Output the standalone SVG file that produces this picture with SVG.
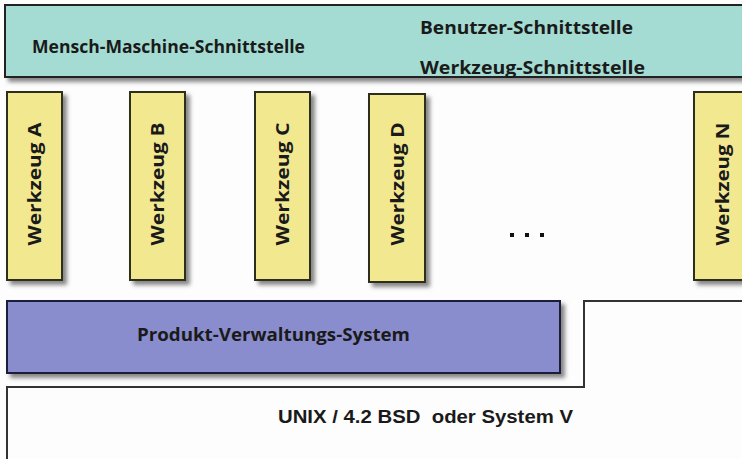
<svg xmlns="http://www.w3.org/2000/svg" width="742" height="459" viewBox="0 0 742 459">
<defs>
<filter id="sh" x="-10%" y="-10%" width="130%" height="130%">
<feDropShadow dx="4" dy="4" stdDeviation="2" flood-color="#555" flood-opacity="0.7"/>
</filter>
<style>
.lbl{font-family:"Open Sans","Noto Sans","DejaVu Sans",sans-serif;font-weight:bold;fill:#1a1a1a;font-size:17.5px}
.tool{fill:#f2e890;stroke:#2e2e1a;stroke-width:2;filter:url(#sh)}
.tl{font-family:"Open Sans","Noto Sans","DejaVu Sans",sans-serif;font-weight:bold;font-size:17px;fill:#1a1a1a;text-anchor:middle;dominant-baseline:central}
.unix{font-family:"Liberation Sans",Arial,sans-serif;font-weight:bold;font-size:18.5px;fill:#1a1a1a;white-space:pre}
</style>
</defs>
<rect width="742" height="459" fill="#fdfdfd"/>
<g id="mms">
<rect x="5" y="5" width="760" height="72" fill="#a4dcd3" stroke="#222" stroke-width="2" filter="url(#sh)"/>
<text class="lbl" x="32" y="53" textLength="273" lengthAdjust="spacingAndGlyphs">Mensch-Maschine-Schnittstelle</text>
<text class="lbl" x="420" y="34" textLength="213" lengthAdjust="spacingAndGlyphs">Benutzer-Schnittstelle</text>
<text class="lbl" x="420" y="74" textLength="225" lengthAdjust="spacingAndGlyphs">Werkzeug-Schnittstelle</text>
</g>
<g id="toolA"><rect class="tool" x="7" y="92" width="55" height="188"/><text class="tl" transform="translate(34.5,184) rotate(-90)" textLength="123" lengthAdjust="spacingAndGlyphs">Werkzeug A</text></g>
<g id="toolB"><rect class="tool" x="130" y="92" width="55" height="188"/><text class="tl" transform="translate(157.5,184) rotate(-90)" textLength="123" lengthAdjust="spacingAndGlyphs">Werkzeug B</text></g>
<g id="toolC"><rect class="tool" x="255" y="92" width="55" height="188"/><text class="tl" transform="translate(282.5,184) rotate(-90)" textLength="123" lengthAdjust="spacingAndGlyphs">Werkzeug C</text></g>
<g id="toolD"><rect class="tool" x="369" y="94" width="56" height="188"/><text class="tl" transform="translate(397,184) rotate(-90)" textLength="123" lengthAdjust="spacingAndGlyphs">Werkzeug D</text></g>
<g id="toolN"><rect class="tool" x="694" y="92" width="60" height="188"/><text class="tl" transform="translate(722,184) rotate(-90)" textLength="123" lengthAdjust="spacingAndGlyphs">Werkzeug N</text></g>
<g id="dots"><rect x="510" y="233" width="4" height="4" fill="#111"/><rect x="525" y="233" width="4" height="4" fill="#111"/><rect x="540" y="233" width="4" height="4" fill="#111"/></g>
<g id="pvs">
<rect x="7" y="301" width="553" height="72" fill="#8a8dcd" stroke="#1e1e3a" stroke-width="2" filter="url(#sh)"/>
<text class="lbl" x="137" y="341" textLength="273" lengthAdjust="spacingAndGlyphs">Produkt-Verwaltungs-System</text>
</g>
<g id="unix">
<path d="M7,465 V387 H584 V301 H750" fill="none" stroke="#333" stroke-width="2"/>
<text class="unix" x="278" y="423" textLength="295" lengthAdjust="spacingAndGlyphs">UNIX / 4.2 BSD  oder System V</text>
</g>
</svg>
